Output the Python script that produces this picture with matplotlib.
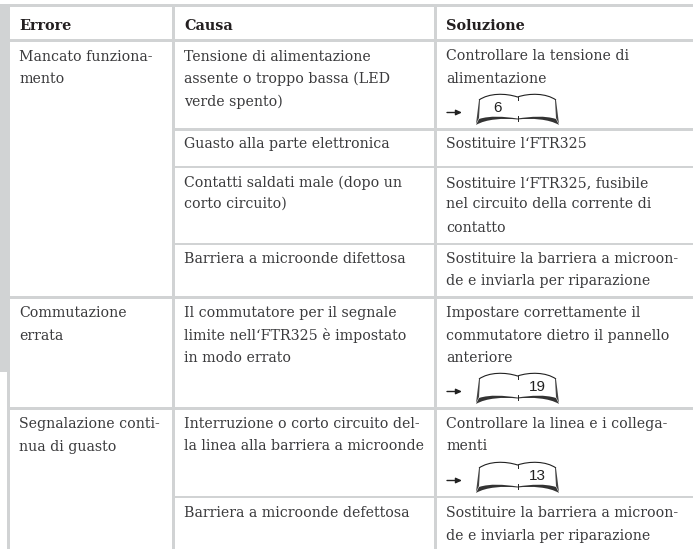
import matplotlib.pyplot as plt
from matplotlib.patches import PathPatch, Rectangle
from matplotlib.path import Path

plt.rcParams['font.family'] = ['DejaVu Serif']

# Table text
headers = ["Errore", "Causa", "Soluzione"]
errori = ["Mancato funziona-", "mento",
          "Commutazione", "errata",
          "Segnalazione conti-", "nua di guasto"]
cause = ["Tensione di alimentazione", "assente o troppo bassa (LED", "verde spento)",
         "Guasto alla parte elettronica",
         "Contatti saldati male (dopo un", "corto circuito)",
         "Barriera a microonde difettosa",
         "Il commutatore per il segnale", "limite nell‘FTR325 è impostato", "in modo errato",
         "Interruzione o corto circuito del-", "la linea alla barriera a microonde",
         "Barriera a microonde defettosa"]
soluzioni = ["Controllare la tensione di", "alimentazione",
             "Sostituire l‘FTR325",
             "Sostituire l‘FTR325, fusibile", "nel circuito della corrente di", "contatto",
             "Sostituire la barriera a microon-", "de e inviarla per riparazione",
             "Impostare correttamente il", "commutatore dietro il pannello", "anteriore",
             "Controllare la linea e i collega-", "menti",
             "Sostituire la barriera a microon-", "de e inviarla per riparazione"]
pagine = ["6", "19", "13"]

# baselines in pixels
y_errori = [61, 83, 317, 340, 428, 451]
y_cause = [61, 83, 106, 148, 187, 208, 263, 317, 340, 362, 428, 450, 517]
y_soluzioni = [60, 83, 148, 187, 208, 232, 263, 285, 317, 340, 362, 428, 450, 517, 540]
y_libri = [94, 373, 462]
x_pagine = [497, 537, 537]

GREY = '#d1d3d4'
INK = '#3a3a3c'
FS = 10.15

fig = plt.figure(figsize=(6.93, 5.49), dpi=100)
ax = fig.add_axes([0, 0, 1, 1])
ax.set_xlim(0, 693)
ax.set_ylim(549, 0)
ax.axis('off')


def band(x0, y0, x1, y1):
    ax.add_patch(Rectangle((x0, y0), x1 - x0, y1 - y0, fc=GREY, ec='none'))


# side band and frame
band(0, 4, 8, 372)
band(7, 4, 10, 549)
band(0, 4, 693, 7)
band(172, 4, 175, 549)
band(434, 4, 437, 549)
# full width rules
for y in [39, 296, 407]:
    band(7, y, 693, y + 2.6)
# rules from the second column on
for y in [128, 165.5, 242.5, 495.5]:
    band(172, y, 693, y + 2.6)


def libro(x0, y0, pagina, x_num):
    # open book icon, 83 x 31 px
    w, h = 83, 31
    cx = x0 + w / 2
    L, R = x0, x0 + w
    top = [(L + 3, y0 + 6), (L + 13, y0 - 1), (cx - 12, y0 - 1), (cx, y0 + 3),
           (cx + 12, y0 - 1), (R - 13, y0 - 1), (R - 3, y0 + 6)]
    codes = [Path.MOVETO] + [Path.CURVE4] * 6
    ax.add_patch(PathPatch(Path(top, codes), fc='none', ec='#222222', lw=0.8))
    # side edges, drawn as thin wedges
    ax.fill([L + 3, L + 4, L + 3, L], [y0 + 6, y0 + 6, y0 + 24, y0 + 30],
            color='#444444', lw=0)
    ax.fill([R - 3, R - 4, R - 3, R], [y0 + 6, y0 + 6, y0 + 24, y0 + 30],
            color='#444444', lw=0)
    # lower edge, thick at the corners and thin at the spine
    low = [(L, y0 + h), (L + 10, y0 + 25), (cx - 14, y0 + 24), (cx, y0 + 25.5),
           (cx + 14, y0 + 24), (R - 10, y0 + 25), (R, y0 + h),
           (R - 3, y0 + 25), (R - 14, y0 + 21.5), (cx + 14, y0 + 22.5), (cx, y0 + 24.5),
           (cx - 14, y0 + 22.5), (L + 14, y0 + 21.5), (L + 3, y0 + 25), (L, y0 + h)]
    lc = [Path.MOVETO] + [Path.CURVE4] * 6 + [Path.LINETO] + [Path.CURVE4] * 6 + [Path.CLOSEPOLY]
    ax.add_patch(PathPatch(Path(low, lc), fc='#333333', ec='none'))
    # spine ticks
    ax.plot([cx, cx], [y0 + 3, y0 + 6], color='#222222', lw=0.7)
    ax.plot([cx, cx], [y0 + 22, y0 + 27], color='#222222', lw=0.7)
    ax.text(x_num, y0 + 18, pagina, family='Liberation Sans', fontsize=11,
            color='#222222', ha='center', va='baseline')
    # arrow in front of the book
    ax.annotate('', xy=(462, y0 + 18.5), xytext=(447, y0 + 18.5),
                arrowprops=dict(arrowstyle='-|>,head_width=0.16,head_length=0.35',
                                color='#222222', lw=1.0, shrinkA=0, shrinkB=0))


for x, h in zip([19, 184, 446], headers):
    ax.text(x, 30, h, fontsize=10.4, fontweight='bold', color='#231f20', va='baseline')
for t, y in zip(errori, y_errori):
    ax.text(19, y, t, fontsize=FS, color=INK, va='baseline')
for t, y in zip(cause, y_cause):
    ax.text(184, y, t, fontsize=FS, color=INK, va='baseline')
for t, y in zip(soluzioni, y_soluzioni):
    ax.text(446, y, t, fontsize=FS, color=INK, va='baseline')
for p, y, x in zip(pagine, y_libri, x_pagine):
    libro(476, y, p, x)

fig.savefig('out.png', dpi=100)
